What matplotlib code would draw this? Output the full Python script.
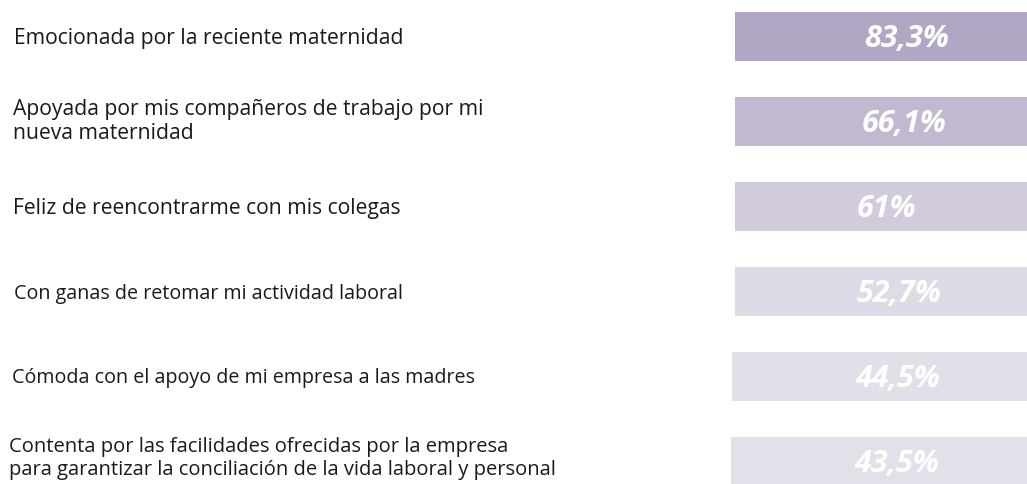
import matplotlib
matplotlib.use("Agg")
import matplotlib.pyplot as plt

categories = [
    "Emocionada por la reciente maternidad",
    "Apoyada por mis compañeros de trabajo por mi\nnueva maternidad",
    "Feliz de reencontrarme con mis colegas",
    "Con ganas de retomar mi actividad laboral",
    "Cómoda con el apoyo de mi empresa a las madres",
    "Contenta por las facilidades ofrecidas por la empresa\npara garantizar la conciliación de la vida laboral y personal",
]
values = [83.3, 66.1, 61.0, 52.7, 44.5, 43.5]
value_labels = ["83,3%", "66,1%", "61%", "52,7%", "44,5%", "43,5%"]
bar_colors = ["#b1a7c4", "#c2b8cf", "#d2cbdc", "#dfdbe6", "#e2dfe8", "#e3e0ea"]

# decorative bars: all roughly same length in the reference
bar_left = [735, 735, 735, 735, 732, 731]
bar_right = 1040
label_x = [14, 13, 13, 14, 12, 9]
label_size = [15.2, 15.2, 15.2, 14.2, 14.2, 14.5]
label_dy = [2, 0, 2, 2, 2, -3]       # px
value_x = [864, 862, 857, 857, 855, 854]

W, H = 1027, 484
PX = 85.0
fig = plt.figure(figsize=(W / 100, H / 100), dpi=100)
ax = fig.add_axes([0, 0, 1, 1])
ax.set_xlim(0, W)
ax.set_ylim((H - 36.5) / PX, -36.5 / PX)
ax.axis("off")

ypos = list(range(len(categories)))
widths = [bar_right - l for l in bar_left]
ax.barh(ypos, widths, left=bar_left, height=49 / PX, color=bar_colors, edgecolor="none")

for i, (cat, vl) in enumerate(zip(categories, value_labels)):
    ax.text(label_x[i], i + label_dy[i] / PX, cat, ha="left", va="center",
            fontsize=label_size[i], family="Open Sans", color="#1a1a1a",
            linespacing=1.15)
    ax.text(value_x[i], i + 10.5 / PX, vl, ha="left", va="baseline", fontsize=22,
            family="Open Sans", weight="bold", style="italic", color="white")

fig.savefig("out.png", dpi=100, facecolor="white")
